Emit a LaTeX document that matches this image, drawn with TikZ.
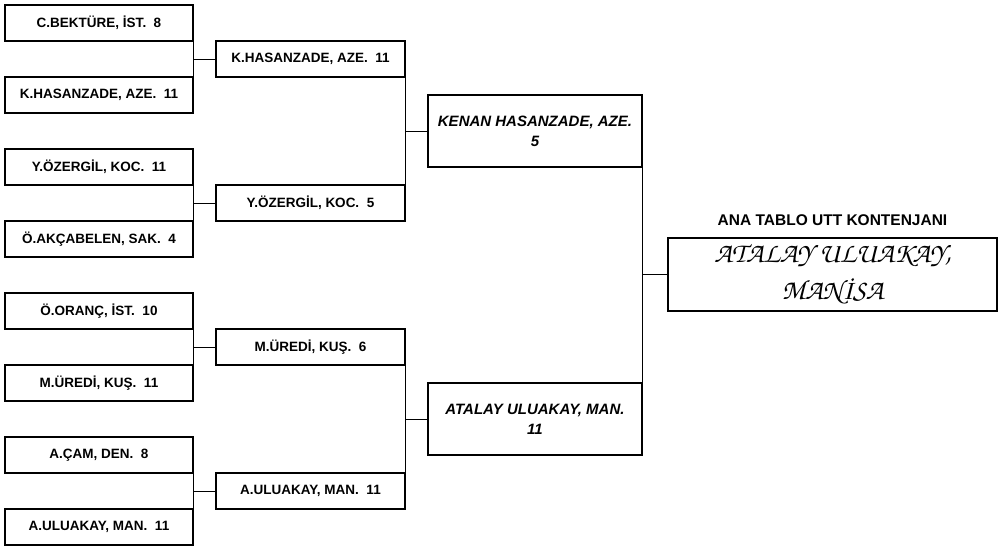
\documentclass[tikz,border=0pt]{standalone}
\usepackage[T1]{fontenc}
\usepackage{fontspec}
\setmainfont{Liberation Sans}
\newcommand{\chancery}{\fontencoding{T1}\fontfamily{pzc}\fontseries{mb}\fontshape{it}\selectfont}
\usepackage{tikz}

\begin{document}
\begin{tikzpicture}[x=1pt,y=-1pt,
	player/.style={draw,line width=1.7pt,minimum width=188pt,minimum height=36pt,inner sep=0pt,font=\fontsize{13.5}{15}\selectfont\bfseries},
	semi/.style={draw,line width=1.7pt,minimum width=214pt,minimum height=72pt,inner sep=0pt,align=center,font=\fontsize{15}{20}\selectfont\bfseries\itshape},
	link/.style={line width=0.8pt}]
	\useasboundingbox (0,0) rectangle (1002,549);
	% first round
	\node[player] (qf1) at (99,23) {C.BEKTÜRE, İST.~~8};
	\node[player] (qf2) at (99,95) {K.HASANZADE, AZE.~~11};
	\node[player] (qf3) at (99,167) {Y.ÖZERGİL, KOC.~~11};
	\node[player] (qf4) at (99,239) {Ö.AKÇABELEN, SAK.~~4};
	\node[player] (qf5) at (99,311) {Ö.ORANÇ, İST.~~10};
	\node[player] (qf6) at (99,383) {M.ÜREDİ, KUŞ.~~11};
	\node[player] (qf7) at (99,455) {A.ÇAM, DEN.~~8};
	\node[player] (qf8) at (99,527) {A.ULUAKAY, MAN.~~11};
	% second round
	\node[player,minimum width=189pt] (sf1) at (310.5,59) {K.HASANZADE, AZE.~~11};
	\node[player,minimum width=189pt] (sf2) at (310.5,203) {Y.ÖZERGİL, KOC.~~5};
	\node[player,minimum width=189pt] (sf3) at (310.5,347) {M.ÜREDİ, KUŞ.~~6};
	\node[player,minimum width=189pt] (sf4) at (310.5,491) {A.ULUAKAY, MAN.~~11};
	% final
	\node[semi] (fin1) at (535,131) {KENAN HASANZADE, AZE.\\5};
	\node[semi] (fin2) at (535,419) {ATALAY ULUAKAY, MAN.\\11};
	\node[draw,line width=1.7pt,minimum width=329pt,minimum height=73pt,inner sep=0pt,align=center,font=\fontsize{28}{37}\chancery] (champ) at (832.5,274.5) {ATALAY ULUAKAY,\\MAN\.ISA};
	\node[font=\fontsize{15.5}{17}\selectfont\bfseries] (title) at (832.5,220) {ANA TABLO UTT KONTENJANI};

	\draw[link] (qf1.south east) -- (qf2.north east);
	\draw[link] (sf1.west) -- (sf1.west -| qf1.east);
	\draw[link] (qf3.south east) -- (qf4.north east);
	\draw[link] (sf2.west) -- (sf2.west -| qf3.east);
	\draw[link] (qf5.south east) -- (qf6.north east);
	\draw[link] (sf3.west) -- (sf3.west -| qf5.east);
	\draw[link] (qf7.south east) -- (qf8.north east);
	\draw[link] (sf4.west) -- (sf4.west -| qf7.east);
	\draw[link] (sf1.south east) -- (sf2.north east);
	\draw[link] (fin1.west) -- (fin1.west -| sf1.east);
	\draw[link] (sf3.south east) -- (sf4.north east);
	\draw[link] (fin2.west) -- (fin2.west -| sf3.east);
	\draw[link] (fin1.south east) -- (fin2.north east);
	\draw[link] (champ.west) -- (champ.west -| fin1.east);
\end{tikzpicture}
\end{document}
